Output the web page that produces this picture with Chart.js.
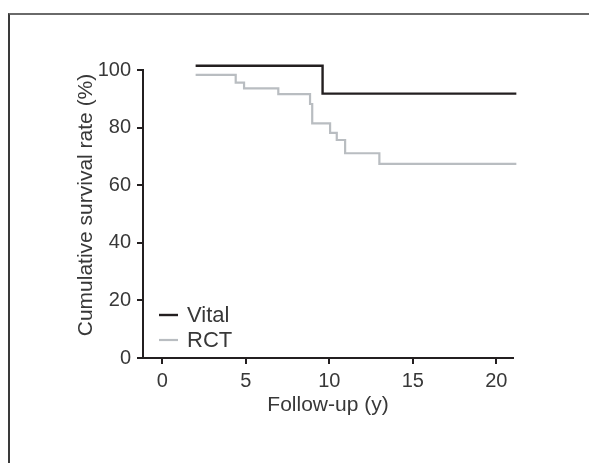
<!DOCTYPE html>
<html><head><meta charset="utf-8">
<script src="https://cdn.jsdelivr.net/npm/chart.js@4/dist/chart.umd.min.js"></script>
<style>
html,body{margin:0;padding:0;background:#fff;overflow:hidden}
#wrap{position:relative;width:589px;height:463px}
#frame{position:absolute;left:8px;top:13px;width:620px;height:520px;border-left:2px solid #3a3a3a;border-top:2px solid #6a6a6a;box-sizing:border-box;pointer-events:none}
canvas{position:absolute;left:0;top:0}
</style></head><body>
<div id="wrap"><div id="frame"></div><canvas id="c" width="589" height="463"></canvas></div>
<script>
const seriesNames = ['Vital', 'RCT'];
const vitalTimes = [2, 9.6, 21.2];
const vitalSurvival = [101.5, 91.8, 91.8];
const rctTimes = [2, 4.4, 4.9, 6.95, 8.85, 8.98, 10.05, 10.45, 10.95, 13.0, 21.2];
const rctSurvival = [98.3, 95.6, 93.6, 91.6, 88.2, 81.5, 78.2, 75.7, 71.1, 67.4, 67.4];
const xTickValues = [0, 5, 10, 15, 20];
const yTickValues = [0, 20, 40, 60, 80, 100];
const xTitle = 'Follow-up (y)';
const yTitle = 'Cumulative survival rate (%)';

const FONT = '"Liberation Sans", Arial, sans-serif';
const TXT = '#383838';
const colors = ['#231f20', '#b9bdc1'];

const toPts = (xs, ys) => xs.map((x, i) => ({x: x, y: ys[i]}));

const legendAndTitle = {
  id: 'legendAndTitle',
  afterDraw(chart) {
    const ctx = chart.ctx;
    ctx.save();
    ctx.fillStyle = TXT;
    ctx.font = '21px ' + FONT;
    ctx.textAlign = 'center';
    ctx.textBaseline = 'middle';
    ctx.translate(86, 205);
    ctx.rotate(-Math.PI / 2);
    ctx.fillText(yTitle, 0, 0);
    ctx.restore();
    ctx.save();
    ctx.font = '22px ' + FONT;
    ctx.textBaseline = 'middle';
    ctx.textAlign = 'left';
    chart.data.datasets.forEach((ds, i) => {
      const y = 315 + i * 25;
      ctx.strokeStyle = ds.borderColor;
      ctx.lineWidth = ds.borderWidth;
      ctx.beginPath();
      ctx.moveTo(159, y);
      ctx.lineTo(178, y);
      ctx.stroke();
      ctx.fillStyle = TXT;
      ctx.fillText(ds.label, 187, y + 1);
    });
    ctx.restore();
  }
};

new Chart(document.getElementById('c'), {
  type: 'line',
  data: {
    datasets: [
      {label: seriesNames[0], data: toPts(vitalTimes, vitalSurvival), borderColor: colors[0], borderWidth: 2.4, stepped: true, pointRadius: 0, fill: false, clip: false},
      {label: seriesNames[1], data: toPts(rctTimes, rctSurvival), borderColor: colors[1], borderWidth: 2.2, stepped: true, pointRadius: 0, fill: false, clip: false}
    ]
  },
  options: {
    responsive: false,
    animation: false,
    events: [],
    layout: {padding: {top: 70, right: 76, left: 0, bottom: 45}},
    plugins: {legend: {display: false}, tooltip: {enabled: false}},
    scales: {
      x: {
        type: 'linear', min: -1.15, max: 21,
        afterBuildTicks: s => { s.ticks = xTickValues.map(v => ({value: v})); },
        afterFit: s => { s.height = 60; },
        grid: {drawOnChartArea: false, tickLength: 6, tickColor: '#231f20', lineWidth: 2},
        border: {display: true, color: '#231f20', width: 2},
        ticks: {color: TXT, font: {family: FONT, size: 20}, padding: 5, maxRotation: 0},
        title: {display: true, text: xTitle, color: TXT, font: {family: FONT, size: 21}, padding: {top: 0, bottom: 0}}
      },
      y: {
        type: 'linear', min: 0, max: 100,
        afterBuildTicks: s => { s.ticks = yTickValues.map(v => ({value: v})); },
        afterFit: s => { s.width = 143; },
        grid: {drawOnChartArea: false, tickLength: 6, tickColor: '#231f20', lineWidth: 2},
        border: {display: true, color: '#231f20', width: 2},
        ticks: {color: TXT, font: {family: FONT, size: 20}, padding: 6}
      }
    }
  },
  plugins: [legendAndTitle]
});
</script>
</body></html>
